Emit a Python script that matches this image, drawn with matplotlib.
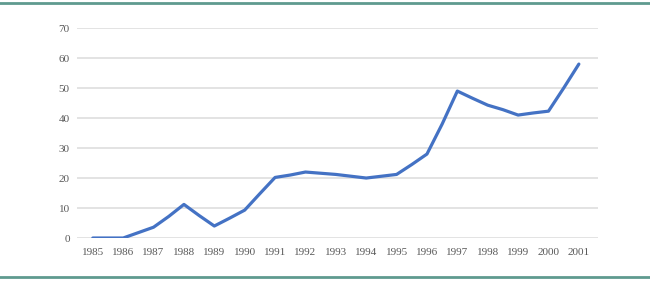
import matplotlib
matplotlib.use("Agg")
import matplotlib.pyplot as plt
from matplotlib.lines import Line2D

years = [1985, 1985.5, 1986, 1986.5, 1987, 1987.5, 1988, 1988.5, 1989, 1989.5,
         1990, 1990.5, 1991, 1991.5, 1992, 1992.5, 1993, 1993.5, 1994, 1994.5,
         1995, 1995.5, 1996, 1996.5, 1997, 1997.5, 1998, 1998.5, 1999, 1999.5,
         2000, 2000.5, 2001]
values = [0, 0, 0, 1.8, 3.6, 7.2, 11.2, 7.5, 4.0, 6.6,
          9.3, 14.8, 20.2, 21.0, 22.0, 21.6, 21.2, 20.6, 20.0, 20.6,
          21.2, 24.5, 28.0, 38.0, 49.0, 46.6, 44.3, 42.8, 41.0, 41.7,
          42.3, 50.0, 58.0]
tick_years = list(range(1985, 2002))
y_ticks = [0, 10, 20, 30, 40, 50, 60, 70]

fig = plt.figure(figsize=(6.5, 2.81), dpi=100)
ax = fig.add_axes([0.118, 0.153, 0.802, 0.747])

ax.plot(years, values, color="#4472C4", lw=2.3, solid_capstyle="round", zorder=3)

ax.set_xlim(1984.47, 2001.63)
ax.set_ylim(0, 70)
ax.set_yticks(y_ticks)
ax.set_xticks(tick_years)
ax.set_xticklabels([str(y) for y in tick_years])
ax.grid(axis="y", color="#e0e0e0", lw=1.3, zorder=0)
ax.grid(axis="x", visible=False)
for s in ax.spines.values():
    s.set_visible(False)
ax.tick_params(axis="both", length=0, labelsize=8, colors="#595959")
ax.tick_params(axis="y", pad=5)
ax.tick_params(axis="x", pad=7)
for lab in ax.get_xticklabels() + ax.get_yticklabels():
    lab.set_fontfamily("Liberation Serif")

fig.add_artist(Line2D([0, 1], [1 - 2.5/281, 1 - 2.5/281], color="#5f9a8f", lw=2, transform=fig.transFigure))
fig.add_artist(Line2D([0, 1], [1 - 277/281, 1 - 277/281], color="#5f9a8f", lw=2, transform=fig.transFigure))

fig.savefig("out.png", dpi=100)
